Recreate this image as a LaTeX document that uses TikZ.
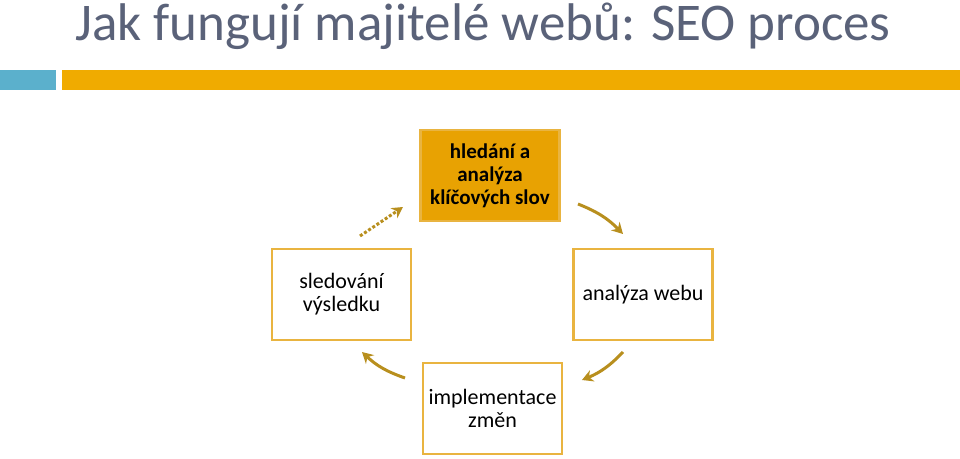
\documentclass[tikz,border=0pt]{standalone}
\usepackage{fontspec}
\setmainfont{Carlito}
\usetikzlibrary{arrows.meta}
\definecolor{ttl}{HTML}{5A6279}
\definecolor{bblue}{HTML}{5BB0CC}
\definecolor{borange}{HTML}{F0AB00}
\definecolor{boxfill}{HTML}{E8A202}
\definecolor{boxline}{HTML}{E9B440}
\definecolor{arr}{HTML}{B88F1E}
\begin{document}
\begin{tikzpicture}[x=1pt,y=-1pt,
  stepbox/.style={draw=boxline,line width=2.5pt,minimum width=139pt,minimum height=91pt,align=center,font=\fontsize{22}{23}\selectfont,inner sep=2pt},
  flow/.style={draw=arr,line width=3pt,-{Stealth[length=11pt,width=12pt]}}]
\useasboundingbox (0,0) rectangle (960,458);
\node[anchor=base west,text=ttl,font=\fontsize{53}{54}\selectfont,inner sep=0] (title) at (75,40) {Jak fungují majitelé webů: SEO proces};
\fill[bblue] (0,70) rectangle (56,90);
\fill[borange] (62,70) rectangle (960,90);
\node[stepbox,fill=boxfill,font=\bfseries\fontsize{21}{23}\selectfont] (a) at (490,175.5) {hledání a\\analýza\\klíčových slov};
\node[stepbox] (b) at (643,294.5) {analýza webu};
\node[stepbox] (c) at (492.5,408.5) {implementace\\změn};
\node[stepbox] (d) at (341.5,294.5) {sledování\\výsledku};
\coordinate (a1) at (578,204); \coordinate (a2) at (623,234);
\coordinate (b1) at (623,352); \coordinate (b2) at (582,380);
\coordinate (c1) at (405,378); \coordinate (c2) at (362,352);
\coordinate (d1) at (360,236); \coordinate (d2) at (403,207);
\draw[flow] (a1) to[bend left=12] (a2);
\draw[flow] (b1) to[bend left=12] (b2);
\draw[flow] (c1) to[bend left=12] (c2);
\draw[flow,dash pattern=on 3pt off 2pt] (d1) -- (d2);
\end{tikzpicture}
\end{document}
